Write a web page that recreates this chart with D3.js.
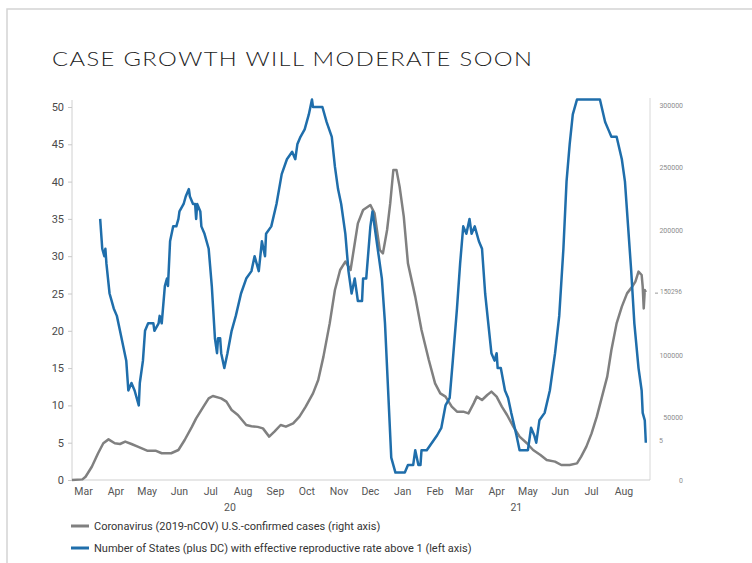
<!DOCTYPE html>
<html>
<head>
<meta charset="utf-8">
<script src="https://cdnjs.cloudflare.com/ajax/libs/d3/7.8.5/d3.min.js"></script>
<style>
  body { margin: 0; background: #fff; }
  text { font-family: Roboto, "Noto Sans", sans-serif; }
</style>
</head>
<body>
<div id="chart"></div>
<script>
// Number of states (plus DC) with Rt above 1 (left axis)
var statesDates = ["2020-04-01","2020-04-03","2020-04-05","2020-04-06","2020-04-07","2020-04-10","2020-04-12","2020-04-14","2020-04-17","2020-04-20",
  "2020-04-23","2020-04-26","2020-04-28","2020-05-01","2020-05-04","2020-05-08","2020-05-09","2020-05-12","2020-05-14","2020-05-17",
  "2020-05-22","2020-05-23","2020-05-27","2020-05-28","2020-05-30","2020-06-02","2020-06-04","2020-06-05","2020-06-07","2020-06-10",
  "2020-06-13","2020-06-15","2020-06-16","2020-06-20","2020-06-22","2020-06-25","2020-06-26","2020-06-29","2020-07-01","2020-07-02",
  "2020-07-03","2020-07-06","2020-07-07","2020-07-10","2020-07-14","2020-07-17","2020-07-20","2020-07-22","2020-07-23","2020-07-25",
  "2020-07-26","2020-07-29","2020-08-01","2020-08-05","2020-08-09","2020-08-14","2020-08-19","2020-08-24","2020-08-27","2020-08-31",
  "2020-09-03","2020-09-06","2020-09-07","2020-09-12","2020-09-17","2020-09-22","2020-09-27","2020-10-02","2020-10-05","2020-10-07",
  "2020-10-10","2020-10-14","2020-10-18","2020-10-21","2020-10-22","2020-10-31","2020-11-04","2020-11-09","2020-11-12","2020-11-15",
  "2020-11-18","2020-11-22","2020-11-25","2020-11-28","2020-12-01","2020-12-03","2020-12-04","2020-12-08","2020-12-09","2020-12-12",
  "2020-12-16","2020-12-18","2020-12-20","2020-12-24","2020-12-27","2020-12-30","2021-01-02","2021-01-05","2021-01-09","2021-01-18",
  "2021-01-21","2021-01-26","2021-01-28","2021-01-31","2021-02-02","2021-02-03","2021-02-08","2021-02-13","2021-02-18","2021-02-22",
  "2021-02-26","2021-03-02","2021-03-05","2021-03-09","2021-03-12","2021-03-15","2021-03-18","2021-03-21","2021-03-23","2021-03-26",
  "2021-03-30","2021-04-02","2021-04-05","2021-04-08","2021-04-11","2021-04-14","2021-04-16","2021-04-17","2021-04-20","2021-04-24",
  "2021-04-27","2021-04-30","2021-05-05","2021-05-08","2021-05-16","2021-05-19","2021-05-22","2021-05-24","2021-05-27","2021-06-01",
  "2021-06-06","2021-06-11","2021-06-15","2021-06-19","2021-06-22","2021-06-25","2021-06-28","2021-07-02","2021-07-24","2021-07-29",
  "2021-08-01","2021-08-04","2021-08-09","2021-08-14","2021-08-17","2021-08-20","2021-08-23","2021-08-26","2021-08-30","2021-09-02",
  "2021-09-03","2021-09-05","2021-09-06"];
var statesValues = [35,31,30,31,29,25,24,23,22,20,
  18,16,12,13,12,10,13,16,20,21,
  21,20,21,22,21,26,27,26,32,34,
  34,35,36,37,38,39,38,37,37,35,
  37,36,34,33,31,26,19,17,19,19,
  17,15,17,20,22,25,27,28,30,28,
  32,30,33,34,37,41,43,44,43,45,
  46,47,49,51,50,50,48,46,42,39,
  37,33,28,25,27,25,24,24,27,27,
  34,36,34,30,27,21,12,3,1,1,
  2,2,4,2,2,4,4,5,6,7,
  10,11,16,23,29,34,33,35,33,34,
  32,31,25,21,17,16,17,15,15,12,
  11,9,6,4,4,7,6,5,8,9,
  12,17,22,31,40,45,49,51,51,48,
  47,46,46,43,40,34,28,21,15,12,
  9,8,5];

// Coronavirus U.S.-confirmed cases (right axis)
var casesDates = ["2020-03-05","2020-03-15","2020-03-18","2020-03-24","2020-03-30","2020-04-04","2020-04-09","2020-04-15","2020-04-20","2020-04-25",
  "2020-05-01","2020-05-07","2020-05-16","2020-05-24","2020-05-30","2020-06-08","2020-06-15","2020-06-21","2020-06-28","2020-07-02",
  "2020-07-09","2020-07-14","2020-07-18","2020-07-26","2020-07-31","2020-08-05","2020-08-11","2020-08-19","2020-08-24","2020-08-30",
  "2020-09-04","2020-09-10","2020-09-15","2020-09-21","2020-09-26","2020-10-03","2020-10-09","2020-10-15","2020-10-22","2020-10-27",
  "2020-11-01","2020-11-07","2020-11-12","2020-11-17","2020-11-22","2020-11-27","2020-11-30","2020-12-04","2020-12-09","2020-12-16",
  "2020-12-20","2020-12-25","2020-12-28","2021-01-01","2021-01-04","2021-01-07","2021-01-10","2021-01-13","2021-01-17","2021-01-21",
  "2021-01-28","2021-02-03","2021-02-10","2021-02-16","2021-02-21","2021-02-26","2021-03-04","2021-03-09","2021-03-15","2021-03-20",
  "2021-03-25","2021-03-28","2021-04-02","2021-04-07","2021-04-11","2021-04-16","2021-04-21","2021-04-26","2021-05-02","2021-05-08",
  "2021-05-15","2021-05-21","2021-05-28","2021-06-03","2021-06-11","2021-06-17","2021-06-25","2021-07-02","2021-07-06","2021-07-11",
  "2021-07-16","2021-07-21","2021-07-26","2021-07-31","2021-08-04","2021-08-09","2021-08-14","2021-08-19","2021-08-24","2021-08-27",
  "2021-08-30","2021-09-02","2021-09-03","2021-09-04","2021-09-05","2021-09-06"];
var casesValues = [0,500,2600,10600,21400,29400,32500,29400,28800,30700,
  28800,26700,23500,23500,21400,21400,24000,32000,42700,49300,
  58700,65300,67200,65300,62700,56000,52000,44000,43000,42500,
  41300,34700,38700,44000,42700,45300,50700,58700,69300,80000,
  98700,125300,152000,168000,174700,168000,184000,205300,216000,220000,
  213300,184000,181300,200000,221300,248000,248000,234700,210700,173300,
  146700,120000,96000,77300,69300,66700,58700,54700,54700,53300,
  61300,66700,64000,68000,70700,66700,58700,52000,42700,34700,
  29400,24000,20000,16000,14700,12000,12000,13300,18700,26700,
  37300,50700,66700,82700,104000,125300,138700,149300,154700,158700,
  166700,164000,154700,137300,152000,150296];

// Axis ticks and labels
var leftTicks = [0, 5, 10, 15, 20, 25, 30, 35, 40, 45, 50];
var rightTicks = [0, 50000, 100000, 200000, 250000, 300000];
var monthLabels = ["Mar","Apr","May","Jun","Jul","Aug","Sep","Oct","Nov","Dec","Jan","Feb","Mar","Apr","May","Jun","Jul","Aug"];
var yearLabels = ["20", "21"];
var seriesNames = ["Coronavirus (2019-nCOV) U.S.-confirmed cases (right axis)",
  "Number of States (plus DC) with effective reproductive rate above 1 (left axis)"];

var width = 752,
    height = 563;

var grayColor = "#808080",
    blueColor = "#1f6eab";

var parseDate = d3.timeParse("%Y-%m-%d");

var svg = d3.select("#chart")
    .append("svg")
    .attr("width", width)
    .attr("height", height);

// thin frame along the top and left edge
svg.append("path")
    .attr("d", "M7,563 L7,9 L752,9")
    .attr("fill", "none")
    .attr("stroke", "#d4d4d4")
    .attr("stroke-width", 1.5);

// title (wide, thin capitals: stretch a light face horizontally)
var titleScale = 1.25;
svg.append("text")
    .attr("transform", "translate(52,66) scale(" + titleScale + ",1)")
    .attr("font-size", "19px")
    .attr("font-weight", 300)
    .attr("textLength", 480 / titleScale)
    .attr("lengthAdjust", "spacing")
    .style("font-family", "Lato, 'DejaVu Sans', sans-serif")
    .style("fill", "#222")
    .text("CASE GROWTH WILL MODERATE SOON");

// scales
var x = d3.scaleTime()
    .domain([parseDate("2020-03-05"), parseDate("2021-09-10")])
    .range([72, 650]);

var yLeft = d3.scaleLinear()
    .domain([0, 50])
    .range([480, 107]);

var yRight = d3.scaleLinear()
    .domain([0, 300000])
    .range([480, 105]);

// axes lines
svg.append("line")
    .attr("x1", 72).attr("x2", 72)
    .attr("y1", 100).attr("y2", 480)
    .attr("stroke", "#d0d0d0");

svg.append("line")
    .attr("x1", 650).attr("x2", 650)
    .attr("y1", 98).attr("y2", 480)
    .attr("stroke", "#d8d8d8");

svg.append("line")
    .attr("x1", 72).attr("x2", 650)
    .attr("y1", 480).attr("y2", 480)
    .attr("stroke", "#cfcfcf");

// left axis
var leftAxis = svg.append("g")
    .attr("transform", "translate(72,0)")
    .call(d3.axisLeft(yLeft).tickValues(leftTicks).tickSize(4).tickPadding(4));
leftAxis.select(".domain").remove();
leftAxis.selectAll(".tick line").attr("stroke", "#c8c8c8");
leftAxis.selectAll(".tick text")
    .attr("font-size", "11px")
    .style("fill", "#4a4a4a");

// right axis
var rightAxis = svg.append("g")
    .attr("transform", "translate(650,0)")
    .call(d3.axisRight(yRight).tickValues(rightTicks).tickFormat(d3.format("d")).tickSize(0).tickPadding(33));
rightAxis.select(".domain").remove();
rightAxis.selectAll(".tick text")
    .attr("text-anchor", "end")
    .attr("font-size", "7px")
    .style("fill", "#8c8c8c");

// last value labels on the right side
var lastCases = casesValues[casesValues.length - 1],
    lastStates = statesValues[statesValues.length - 1];

svg.append("line")
    .attr("x1", 655).attr("x2", 658)
    .attr("y1", yRight(lastCases) + 1).attr("y2", yRight(lastCases) + 1)
    .attr("stroke", "#999");
svg.append("text")
    .attr("x", 660)
    .attr("y", yRight(lastCases))
    .attr("dy", "0.35em")
    .attr("font-size", "6.5px")
    .style("fill", "#8c8c8c")
    .text(lastCases);
svg.append("text")
    .attr("x", 659)
    .attr("y", yLeft(lastStates) - 2)
    .attr("dy", "0.35em")
    .attr("font-size", "7px")
    .style("fill", "#8c8c8c")
    .text(lastStates);

// month labels, centred in each month
var monthStarts = d3.timeMonth.range(parseDate("2020-03-01"), parseDate("2021-09-01"));
svg.selectAll(".month")
    .data(monthStarts)
    .enter()
    .append("text")
    .attr("class", "month")
    .attr("x", function(d) { return x(d3.timeDay.offset(d, 15)); })
    .attr("y", 495)
    .attr("text-anchor", "middle")
    .attr("font-size", "10.5px")
    .style("fill", "#555")
    .text(function(d, i) { return monthLabels[i]; });

// year labels, centred under their months
var yearGroups = [monthStarts.slice(0, 10), monthStarts.slice(10)];
svg.selectAll(".year")
    .data(yearGroups)
    .enter()
    .append("text")
    .attr("class", "year")
    .attr("x", function(d) {
        var a = x(d3.timeDay.offset(d[0], 15)),
            b = x(d3.timeDay.offset(d[d.length - 1], 15));
        return (a + b) / 2 + 3;
    })
    .attr("y", 511)
    .attr("text-anchor", "middle")
    .attr("font-size", "10.5px")
    .style("fill", "#555")
    .text(function(d, i) { return yearLabels[i]; });

// build the series
var casesData = casesDates.map(function(d, i) { return {date: parseDate(d), value: casesValues[i]}; });
var statesData = statesDates.map(function(d, i) { return {date: parseDate(d), value: statesValues[i]}; });

var casesLine = d3.line()
    .x(function(d) { return x(d.date); })
    .y(function(d) { return yRight(d.value); });

var statesLine = d3.line()
    .x(function(d) { return x(d.date); })
    .y(function(d) { return yLeft(d.value); });

svg.append("path")
    .datum(casesData)
    .attr("d", casesLine)
    .attr("fill", "none")
    .attr("stroke", grayColor)
    .attr("stroke-width", 2.5)
    .attr("stroke-linejoin", "round");

svg.append("path")
    .datum(statesData)
    .attr("d", statesLine)
    .attr("fill", "none")
    .attr("stroke", blueColor)
    .attr("stroke-width", 2.5)
    .attr("stroke-linejoin", "round");

// legend
var legend = svg.selectAll(".legend")
    .data(seriesNames)
    .enter()
    .append("g")
    .attr("class", "legend")
    .attr("transform", function(d, i) { return "translate(71," + (526 + i * 22) + ")"; });

legend.append("line")
    .attr("x1", 0).attr("x2", 18)
    .attr("stroke", function(d, i) { return i === 0 ? grayColor : blueColor; })
    .attr("stroke-width", 3);

legend.append("text")
    .attr("x", 23)
    .attr("dy", "0.35em")
    .attr("font-size", "11px")
    .style("fill", "#333")
    .text(function(d) { return d; });
</script>
</body>
</html>
